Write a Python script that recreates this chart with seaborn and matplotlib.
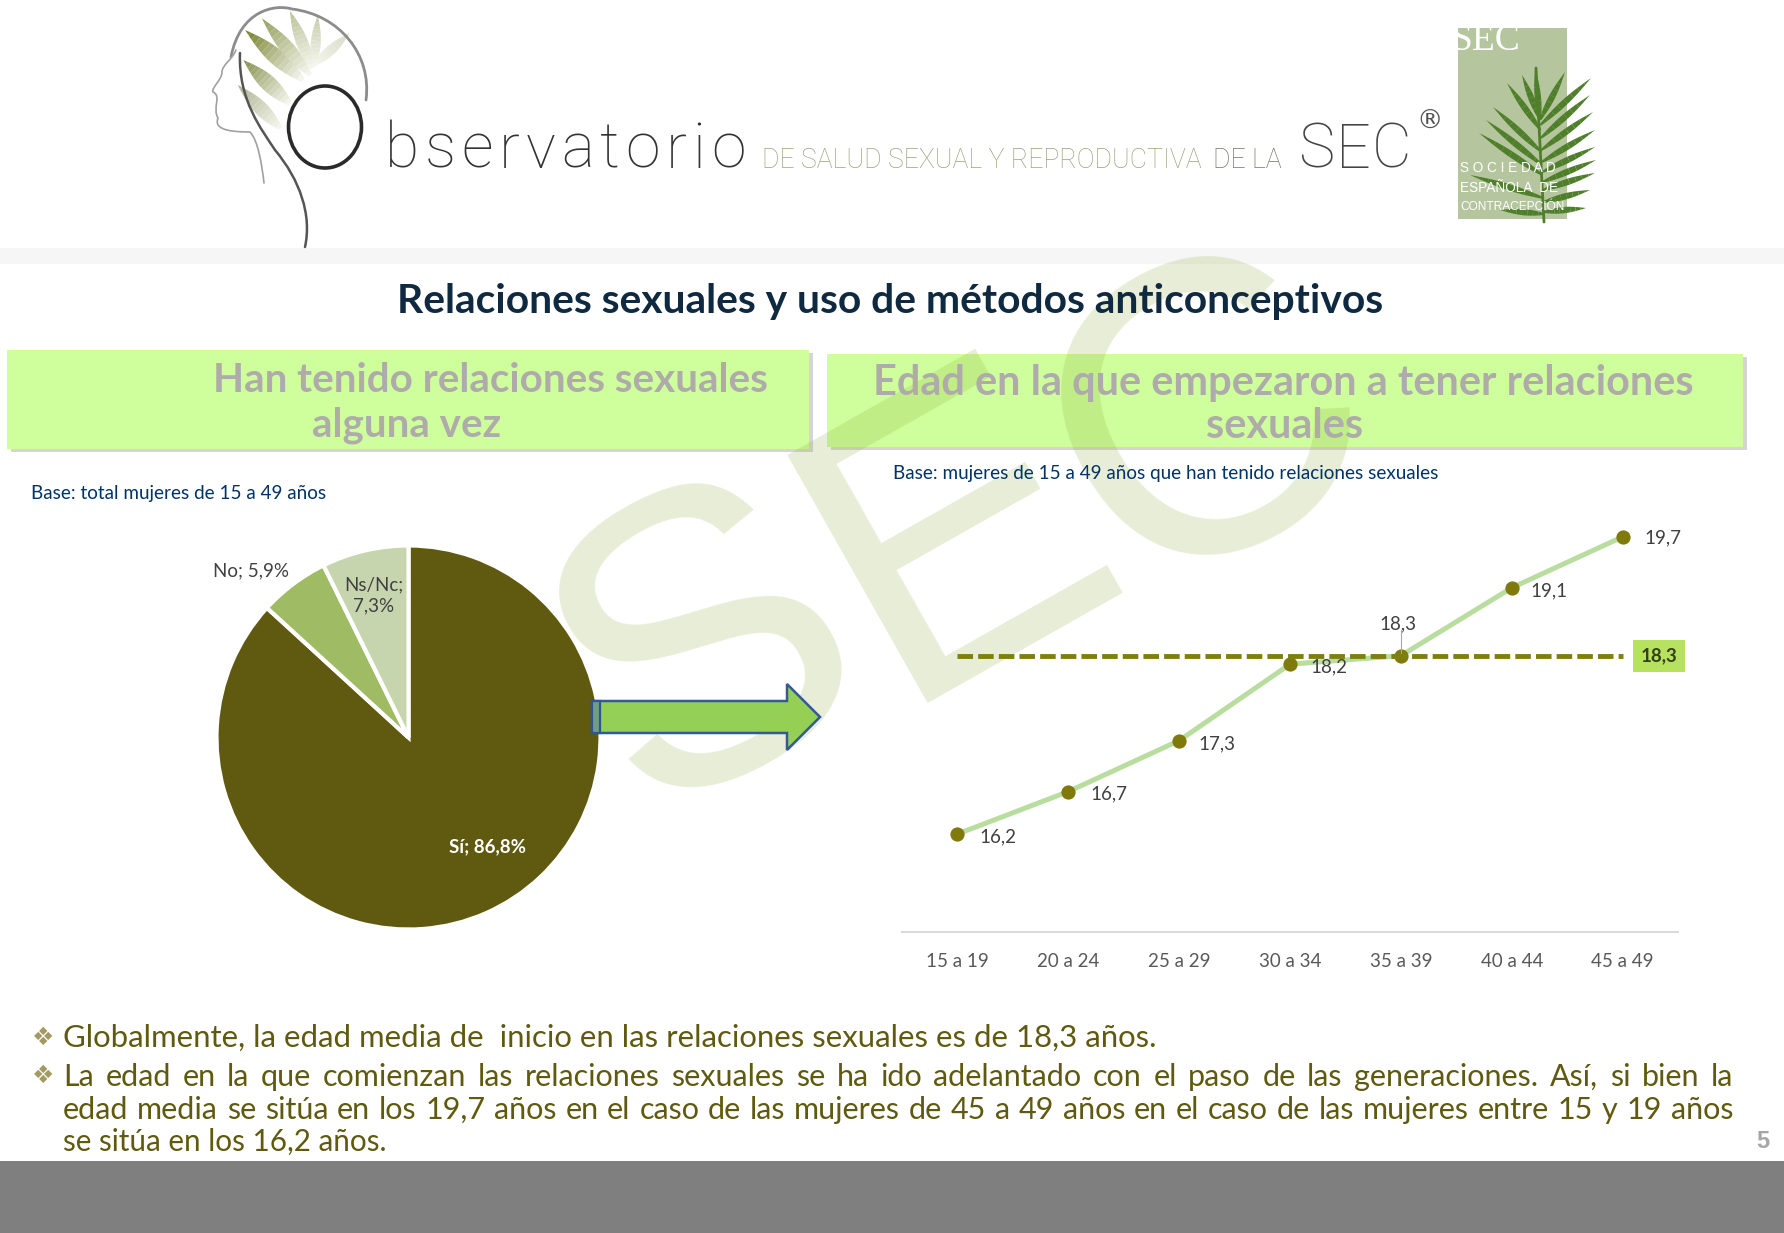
import numpy as np
import pandas as pd
import matplotlib
matplotlib.use('Agg')
import matplotlib.pyplot as plt
import seaborn as sns
from matplotlib.patches import Rectangle, Polygon, Ellipse, PathPatch
from matplotlib.path import Path
from matplotlib.colors import to_rgb

# datos
respuestas = ['Sí', 'No', 'Ns/Nc']
porcentajes = [86.8, 5.9, 7.3]
colores_pie = ['#5F5A0F', '#9FBB63', '#C7D5AE']
edades = ['15 a 19', '20 a 24', '25 a 29', '30 a 34', '35 a 39', '40 a 44', '45 a 49']
edad_inicio = [16.2, 16.7, 17.3, 18.2, 18.3, 19.1, 19.7]
edad_media = 18.3

FUENTE = 'Lato'
OLIVA = '#5F5A0F'

sns.set_theme(style='white')
plt.rcParams['font.family'] = [FUENTE, 'DejaVu Sans']

W, H = 1784, 1233
fig = plt.figure(figsize=(W / 100, H / 100), dpi=100, facecolor='white')


def ejes(x0, y0, x1, y1, z):
    a = fig.add_axes([x0 / W, 1 - y1 / H, (x1 - x0) / W, (y1 - y0) / H], zorder=z)
    a.patch.set_alpha(0)
    return a


# capa de fondo en pixeles
bg = ejes(0, 0, W, H, 0)
bg.set_xlim(0, W)
bg.set_ylim(H, 0)
bg.axis('off')

# capa superior (flecha)
fg = ejes(0, 0, W, H, 5)
fg.set_xlim(0, W)
fg.set_ylim(H, 0)
fg.axis('off')


def hoja(a, base, punta, ancho, c_punta, c_base, z=3, n=14):
    base = np.array(base, float)
    punta = np.array(punta, float)
    d = punta - base
    nrm = np.array([-d[1], d[0]]) / np.hypot(*d)
    c0, c1 = np.array(to_rgb(c_base)), np.array(to_rgb(c_punta))
    ts = np.linspace(0, 1, n + 1)
    for t0, t1 in zip(ts[:-1], ts[1:]):
        w0 = ancho * np.sin(np.pi * min(t0 * 0.9 + 0.1, 1))
        w1 = ancho * np.sin(np.pi * min(t1 * 0.9 + 0.1, 1))
        p0, p1 = base + d * t0, base + d * t1
        a.add_patch(Polygon([p0 + nrm * w0, p1 + nrm * w1, p1 - nrm * w1, p0 - nrm * w0],
                            fc=c0 + (c1 - c0) * t0, ec='none', zorder=z))


def curva(a, pts, color, lw, z=4):
    cod = [Path.MOVETO] + [Path.CURVE4] * (len(pts) - 1)
    a.add_patch(PathPatch(Path(pts, cod), fc='none', ec=color, lw=lw, zorder=z, capstyle='round'))


def espaciado(a, x, y, txt, paso, **kw):
    # letras una a una para separar
    r = fig.canvas.get_renderer()
    for c in txt:
        t = a.text(x, y, c, ha='left', va='baseline', **kw)
        x += t.get_window_extent(r).width + paso


# logo cabeza
LZ = lambda zx, zy: (180 + zx / 1.074, zy / 3)
for tip, base, w, c in [((70, 90), (132, 240), 8, '#6F7B22'), ((88, 55), (140, 225), 7, '#8E9A55'),
                        ((118, 32), (142, 205), 6, '#B7BE93'), ((148, 45), (144, 200), 5, '#C4CAA8'),
                        ((182, 100), (144, 195), 5, '#D5D9C3'), ((68, 180), (118, 310), 8, '#7F8A45'),
                        ((62, 255), (108, 385), 7, '#A8AE8A')]:
    hoja(bg, LZ(*base), LZ(*tip), w, c, '#F4F5EC')
curva(bg, [(231, 57), (240, 10), (275, 4), (292, 9), (340, 15), (372, 55), (366, 100)], '#8C8C8C', 2)
curva(bg, [(236, 50), (232, 60), (222, 65), (222, 72), (222, 80), (211, 88), (213, 92),
           (222, 96), (212, 108), (218, 118), (214, 128), (225, 132), (250, 132),
           (258, 140), (262, 165), (264, 183)], '#A0A0A0', 1.2)
curva(bg, [(240, 53), (238, 100), (262, 130), (275, 150), (300, 180), (312, 215), (305, 247)], '#555555', 1.8)
bg.add_patch(Ellipse((325, 127), 73, 82, fc='none', ec='#2A2A2A', lw=2.6, zorder=5))

espaciado(bg, 385, 168, 'bservatorio', 5.8, fontsize=45, color='#333333', fontweight='light', fontfamily='Roboto')
bg.text(762, 168, 'DE SALUD SEXUAL Y REPRODUCTIVA', fontsize=19.2, color='#9EA37C', fontweight='light', va='baseline',
        fontfamily='Roboto')
bg.text(1213, 168, 'DE LA', fontsize=19.2, color='#77776A', fontweight='light', va='baseline', fontfamily='Roboto')
espaciado(bg, 1298, 168, 'SEC', 1.5, fontsize=44, color='#444444', fontweight='light', fontfamily='Roboto')
bg.text(1430, 122, '®', fontsize=19, color='#505050', ha='center', va='center', fontfamily='DejaVu Sans')

# logo SEC
bg.add_patch(Rectangle((1458, 28), 109, 191, fc='#B5C69F', ec='none', zorder=2))
bg.text(1486, 41, 'SEC', fontsize=27, color='white', ha='center', va='center', zorder=5,
        fontfamily='Liberation Serif')
bg.plot([1536, 1544], [68, 222], color='#4F7F2B', lw=2, zorder=3)
for (tx, ty), by in [((1591, 78), 125), ((1593, 112), 150), ((1595, 147), 172), ((1595, 173), 190),
                     ((1586, 208), 212), ((1507, 83), 130), ((1493, 107), 152), ((1479, 133), 175),
                     ((1470, 175), 198), ((1500, 210), 214), ((1535, 68), 120), ((1522, 75), 120),
                     ((1565, 72), 120), ((1590, 95), 138), ((1595, 130), 162), ((1486, 120), 165),
                     ((1596, 160), 182), ((1590, 190), 202)]:
    hoja(bg, (1538 + (by - 67) * 0.04, by), (tx, ty), 3.2, '#4F7F2B', '#4F7F2B', n=8)
bg.text(1460, 168, 'S O C I E D A D', fontsize=9.8, color='white', ha='left', va='center', zorder=5, fontfamily='Liberation Sans')
bg.text(1460, 188, 'ESPAÑOLA  DE', fontsize=9.8, color='white', ha='left', va='center', zorder=5, fontfamily='Liberation Sans')
bg.text(1460, 207, 'CONTRACEPCIÓN', fontsize=8.6, color='white', ha='left', va='center', zorder=5, fontfamily='Liberation Sans')

# banda gris y pie de pagina
bg.add_patch(Rectangle((0, 248), W, 16, fc='#F6F6F6', ec='none'))
bg.add_patch(Rectangle((0, 1161), W, 72, fc='#7F7F7F', ec='none'))

# cabeceras
for x0, y0, x1, y1 in [(7, 350, 809, 449), (827, 354, 1743, 447)]:
    bg.add_patch(Rectangle((x0 + 4, y0 + 3), x1 - x0, y1 - y0, fc='#B9B9B9', ec='none', alpha=0.6, zorder=1))
    bg.add_patch(Rectangle((x0, y0), x1 - x0, y1 - y0, fc='#CEFF9C', ec='none', zorder=1.5))

# marca de agua, letra a letra
for letra, cx, cy in [('S', 711, 657), ('E', 961, 542), ('C', 1213, 432)]:
    bg.text(cx, cy, letra, fontsize=298, rotation=29.5, rotation_mode='anchor', ha='center', va='center',
            color=(0.55, 0.66, 0.2, 0.2), fontfamily='Liberation Sans', zorder=2.5)

# textos
bg.text(890, 301, 'Relaciones sexuales y uso de métodos anticonceptivos', fontsize=29.3, fontweight='bold',
        color='#0F2A40', ha='center', va='center', zorder=6)
for x, y, t, s in [(490, 381, 'Han tenido relaciones sexuales', 29.1), (407, 425, 'alguna vez', 29.1),
                   (1283, 383, 'Edad en la que empezaron a tener relaciones', 29.9), (1285, 426, 'sexuales', 29.9)]:
    bg.text(x, y, t, fontsize=s, fontweight='bold', color='#AFABAB', ha='center', va='center', zorder=6)
bg.text(31, 493, 'Base: total mujeres de 15 a 49 años', fontsize=13.55, color='#003366', va='center', zorder=6)
bg.text(893, 473, 'Base: mujeres de 15 a 49 años que han tenido relaciones sexuales', fontsize=13.55,
        color='#003366', va='center', zorder=6)

# tarta
ax1 = ejes(216.5, 545.5, 600.5, 929.5, 2)
ax1.pie(porcentajes, colors=colores_pie, startangle=90, counterclock=False, radius=1,
        wedgeprops={'edgecolor': 'white', 'linewidth': 3})
ax1.set_xlim(-1, 1)
ax1.set_ylim(-1, 1)
ax1.text(0.41, -0.57, f'{respuestas[0]}; 86,8%', color='white', fontsize=13.5, fontweight='bold', ha='center', va='center')
ax1.text(-0.82, 0.87, f'{respuestas[1]}; 5,9%', color='#404040', fontsize=13.5, ha='center', va='center')
ax1.text(-0.18, 0.74, f'{respuestas[2]};\n7,3%', color='#404040', fontsize=13.5, ha='center', va='center', linespacing=1.35)

# flecha
fg.add_patch(Polygon([(592, 701), (787, 701), (787, 684), (820, 717), (787, 750), (787, 733), (592, 733)],
                     fc='#92CF50', ec='#2F5597', lw=1.8, alpha=0.97))
fg.add_patch(Rectangle((592, 701), 8, 32, fc='#6F9F80', ec='#2F5597', lw=1.6))

# lineas
df = pd.DataFrame({'edad': edades, 'inicio': edad_inicio, 'media': edad_media})
ax2 = ejes(902, 500, 1678, 932, 2)
sns.lineplot(data=df, x='edad', y='inicio', color='#B9DD9F', lw=3.6, ax=ax2, zorder=2, sort=False)
sns.scatterplot(data=df, x='edad', y='inicio', color='#7F7A0B', s=105, linewidth=0, ax=ax2, zorder=3)
sns.lineplot(data=df, x='edad', y='media', color='#7F7F10', lw=3.5, ax=ax2, zorder=4, sort=False,
             dashes=False).lines[-1].set_dashes((3.2, 1.05))
ax2.set_xlim(-0.5, 6.5)
ax2.set_ylim(15.046, 20.134)
ax2.set_xlabel('')
ax2.set_ylabel('')
ax2.set_yticks([])
sns.despine(ax=ax2, left=True)
ax2.spines['bottom'].set_color('#D9D9D9')
ax2.spines['bottom'].set_linewidth(1.4)
ax2.tick_params(axis='x', length=0, pad=15, labelsize=13.5, labelcolor='#595959')

offs = [(29, -2), (29, -2), (27, -2), (28, -2), (-2, 23), (27, -2), (29, -1)]
for i, v in enumerate(edad_inicio):
    ax2.annotate(f'{v:.1f}'.replace('.', ','), (i, v), xytext=offs[i], textcoords='offset points',
                 fontsize=13.5, color='#404040', ha='center', va='center', zorder=6)
ax2.plot([4, 4], [18.33, 18.6], color='#A6A6A6', lw=0.8, zorder=3)
ax2.text(6.33, edad_media, '18,3', fontsize=13.5, fontweight='bold', color='#33401A', ha='center', va='center',
         zorder=6, bbox=dict(boxstyle='square,pad=0.4', fc='#B7E25F', ec='none'))


# texto inferior
def justificada(y, txt, x0=63, x1=1733, size=22):
    r = fig.canvas.get_renderer()
    ts = [bg.text(0, y, p, fontsize=size, color=OLIVA, va='center', zorder=6) for p in txt.split()]
    anchos = [t.get_window_extent(r).width for t in ts]
    hueco = (x1 - x0 - sum(anchos)) / (len(ts) - 1)
    x = x0
    for t, a in zip(ts, anchos):
        t.set_x(x)
        x += a + hueco


bg.text(63, 1038, 'Globalmente, la edad media de  inicio en las relaciones sexuales es de 18,3 años.', fontsize=22.4,
        color=OLIVA, va='center', zorder=6)
justificada(1077, 'La edad en la que comienzan las relaciones sexuales se ha ido adelantado con el paso de las generaciones. Así, si bien la')
justificada(1110, 'edad media se sitúa en los 19,7 años en el caso de las mujeres de 45 a 49 años en el caso de las mujeres entre 15 y 19 años')
bg.text(63, 1142, 'se sitúa en los 16,2 años.', fontsize=21.3, color=OLIVA, va='center', zorder=6)
for y in [1038, 1076]:
    bg.text(43, y, '❖', fontsize=18, color='#A39A63', ha='center', va='center', fontfamily='DejaVu Sans', zorder=6)
bg.text(1763, 1142, '5', fontsize=17, fontweight='bold', color='#A6A6A6', ha='center', va='center', zorder=6,
        fontfamily='Liberation Sans')

fig.savefig('out.png', dpi=100)
